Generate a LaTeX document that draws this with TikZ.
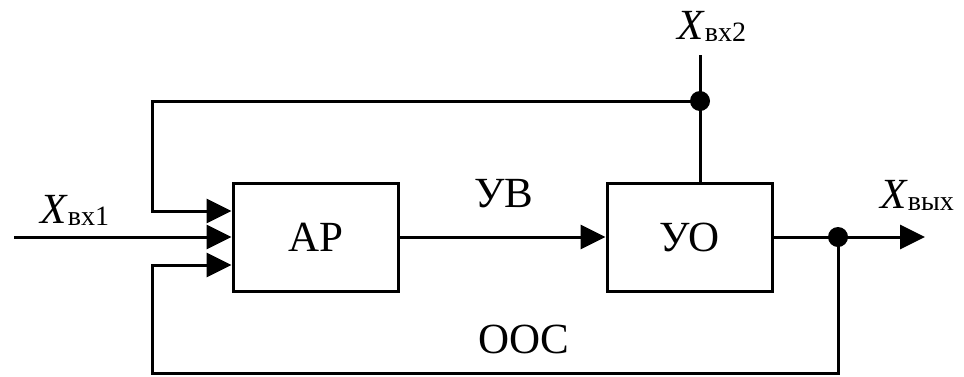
\documentclass[tikz,border=0pt]{standalone}
\usepackage{fontspec}
\setmainfont{Liberation Serif}
\usetikzlibrary{arrows.meta}
\newcommand{\bigtxt}{\fontsize{43}{43}\selectfont}
\newcommand{\subtxt}[1]{{\fontsize{28}{28}\selectfont\raisebox{-2pt}{#1}}}
\begin{document}
\begin{tikzpicture}[x=1pt,y=-1pt,
  wire/.style={line width=3pt},
  arr/.style={wire,-{Triangle[length=25pt,width=24pt]}},
  blk/.style={draw,line width=3pt,minimum width=165pt,minimum height=108pt,inner sep=0pt,font=\bigtxt},
  lbl/.style={inner sep=0pt,font=\bigtxt},
  dot/.style={circle,fill=black,inner sep=0pt,minimum size=20pt}]
\useasboundingbox (0,0) rectangle (964,376);
\node[blk] (AP) at (315.5,237) {АР};
\node[blk] (UO) at (689.5,237) {УО};
\coordinate (in1) at (14,237);
\coordinate (out) at (925,237);
\coordinate (in2) at (700,55);
\node[dot] (j1) at (838,237) {};
\node[dot] (j2) at (700,101) {};
\coordinate (tl) at (152,211);
\coordinate (bl) at (152,265);
\coordinate (bb) at (152,373);
\coordinate (br) at (838,373);
% main path
\draw[arr] (in1) -- (AP.west);
\draw[arr] (AP.east) -- (UO.west);
\draw[arr] (UO.east) -- (out);
% input 2 and upper feedback
\draw[wire] (in2) -- (in2 |- UO.north);
\draw[arr] (j2.center) -| (tl) -- (tl -| AP.west);
% lower feedback
\draw[arr] (j1.center) -- (br) -- (bb) -- (bl) -- (bl -| AP.west);
% labels
\node[lbl,anchor=base west] (lx1) at (40,223) {\textit{X}\subtxt{вх1}};
\node[lbl,anchor=base west] (lx2) at (677,39) {\textit{X}\subtxt{вх2}};
\node[lbl,anchor=base west] (lxo) at (880,208) {\textit{X}\subtxt{вых}};
\node[lbl,anchor=base] (luv) at (504,207) {УВ};
\node[lbl,anchor=base] (looc) at (524,353) {ООС};
\end{tikzpicture}
\end{document}
